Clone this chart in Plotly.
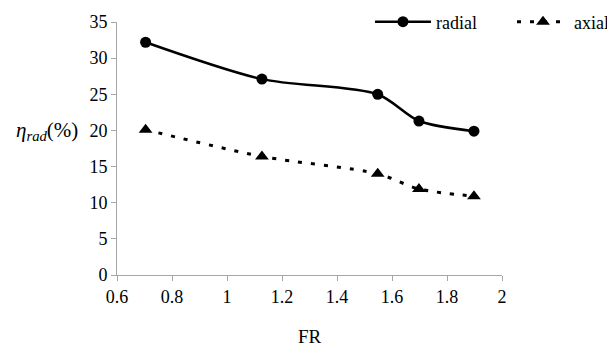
import plotly.graph_objects as go

fr_values = [0.704, 1.127, 1.548, 1.698, 1.898]
radial_eff = [32.2, 27.1, 25.0, 21.3, 19.9]
axial_eff = [20.1, 16.4, 14.0, 11.9, 10.9]
x_ticks = [0.6, 0.8, 1.0, 1.2, 1.4, 1.6, 1.8, 2.0]
x_tick_text = ["0.6", "0.8", "1", "1.2", "1.4", "1.6", "1.8", "2"]
y_ticks = [0, 5, 10, 15, 20, 25, 30, 35]

FONT = "Liberation Serif, Times New Roman, Tinos, DejaVu Serif, serif"

fig = go.Figure()
fig.add_trace(go.Scatter(
    x=fr_values, y=radial_eff, name="radial", mode="lines+markers",
    line=dict(color="black", width=2.5, shape="spline", smoothing=0.8),
    marker=dict(symbol="circle", size=11, color="black"),
    legend="legend",
))
fig.add_trace(go.Scatter(
    x=fr_values, y=axial_eff, name="axial", mode="lines+markers",
    line=dict(color="black", width=3, dash="4px,9px", shape="spline", smoothing=0.8),
    marker=dict(symbol="triangle-up", size=12, color="black"),
    legend="legend2",
))

axis_common = dict(
    showline=True, linecolor="#a6a6a6", linewidth=1,
    ticks="outside", tickcolor="#a6a6a6", ticklen=5,
    showgrid=False, zeroline=False,
    tickfont=dict(family=FONT, size=18, color="black"),
)

fig.update_xaxes(range=[0.6, 2.0], tickvals=x_ticks, ticktext=x_tick_text,
                 title=dict(text="FR", font=dict(family=FONT, size=19, color="black"), standoff=24),
                 **axis_common)
fig.update_yaxes(range=[0, 35], tickvals=y_ticks, **axis_common)

fig.add_annotation(
    text="<i>η<sub>rad</sub></i>(%)", xref="paper", yref="paper",
    x=-0.182, y=0.57, xanchor="center", yanchor="middle", showarrow=False,
    font=dict(family=FONT, size=21, color="black"),
)

legend_common = dict(orientation="h", y=1.0, yanchor="middle",
                     font=dict(family=FONT, size=18, color="black"),
                     bgcolor="rgba(0,0,0,0)")

fig.update_layout(
    width=615, height=347,
    margin=dict(l=109, r=121, t=14, b=80, autoexpand=False),
    paper_bgcolor="white", plot_bgcolor="white",
    font=dict(family=FONT),
    showlegend=True,
    legend=dict(x=0.657, xanchor="left", itemwidth=56, **legend_common),
    legend2=dict(x=1.026, xanchor="left", itemwidth=52, **legend_common),
)

fig.write_html("out.html")
